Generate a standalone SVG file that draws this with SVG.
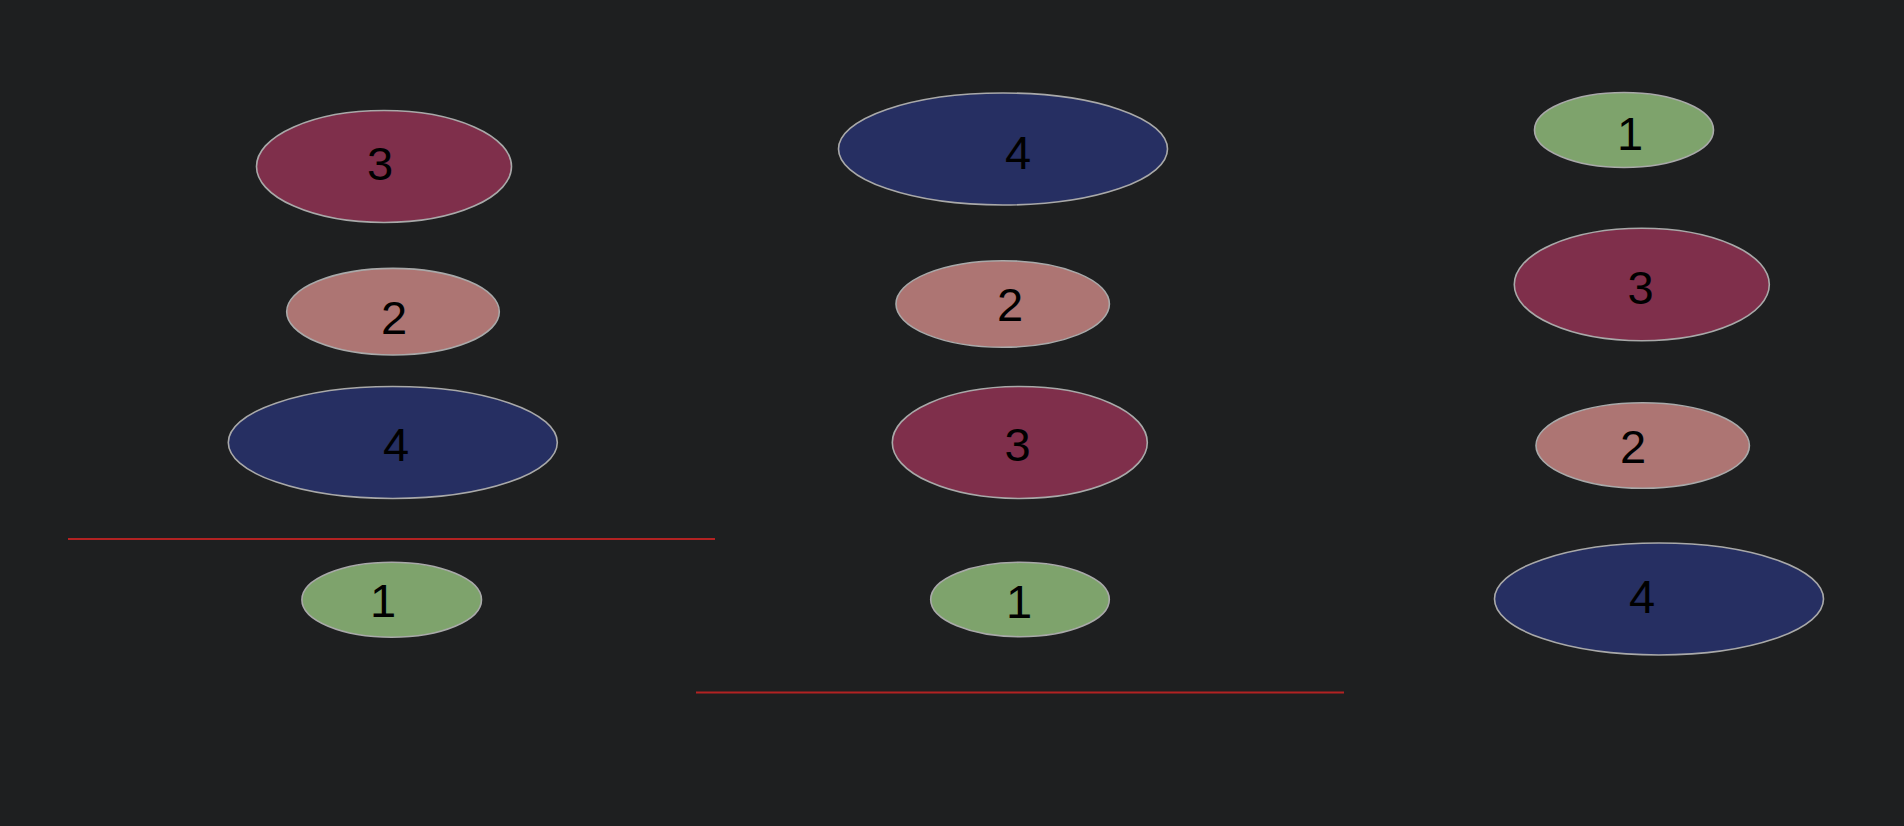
<svg xmlns="http://www.w3.org/2000/svg" width="1904" height="826" viewBox="0 0 1904 826">
<style>
.n ellipse{stroke:#a9a9a9;stroke-width:1.6}
.red{fill:#7f2f4b}
.pink{fill:#ad7573}
.blue{fill:#262f62}
.green{fill:#7ea36c}
.n text{font-family:"Liberation Sans",Arial,sans-serif;font-size:47px;fill:#000;text-anchor:middle}
.sep{stroke:#b22222;stroke-width:2}
</style>
<rect width="1904" height="826" fill="#1e1f20"/>
<g id="col1">
<g id="c1n3" class="n"><ellipse class="red" cx="384" cy="166.5" rx="127.5" ry="56"/><text x="380" y="180">3</text></g>
<g id="c1n2" class="n"><ellipse class="pink" cx="393" cy="311.7" rx="106.3" ry="43.3"/><text x="394" y="334">2</text></g>
<g id="c1n4" class="n"><ellipse class="blue" cx="392.8" cy="442.5" rx="164.5" ry="56"/><text x="396" y="460.5">4</text></g>
<g id="c1n1" class="n"><ellipse class="green" cx="391.7" cy="599.8" rx="89.8" ry="37.5"/><text x="383" y="617">1</text></g>
</g>
<g id="col2">
<g id="c2n4" class="n"><ellipse class="blue" cx="1003" cy="149" rx="164.5" ry="56"/><text x="1018" y="169">4</text></g>
<g id="c2n2" class="n"><ellipse class="pink" cx="1002.7" cy="304" rx="106.7" ry="43.3"/><text x="1010" y="320.5">2</text></g>
<g id="c2n3" class="n"><ellipse class="red" cx="1019.8" cy="442.5" rx="127.5" ry="56"/><text x="1017.5" y="460.5">3</text></g>
<g id="c2n1" class="n"><ellipse class="green" cx="1020" cy="599.5" rx="89.3" ry="37.2"/><text x="1019" y="617.5">1</text></g>
</g>
<g id="col3">
<g id="c3n1" class="n"><ellipse class="green" cx="1624" cy="130" rx="89.5" ry="37.5"/><text x="1630" y="150">1</text></g>
<g id="c3n3" class="n"><ellipse class="red" cx="1641.8" cy="284.5" rx="127.5" ry="56.2"/><text x="1640.5" y="304">3</text></g>
<g id="c3n2" class="n"><ellipse class="pink" cx="1642.7" cy="445.5" rx="106.7" ry="42.8"/><text x="1633" y="462.5">2</text></g>
<g id="c3n4" class="n"><ellipse class="blue" cx="1659" cy="599" rx="164.5" ry="56"/><text x="1642" y="612.5">4</text></g>
</g>
<g id="connectors">
<line class="sep" x1="68" y1="539" x2="715" y2="539"/>
<line class="sep" x1="696" y1="692.5" x2="1344" y2="692.5"/>
</g>
</svg>
